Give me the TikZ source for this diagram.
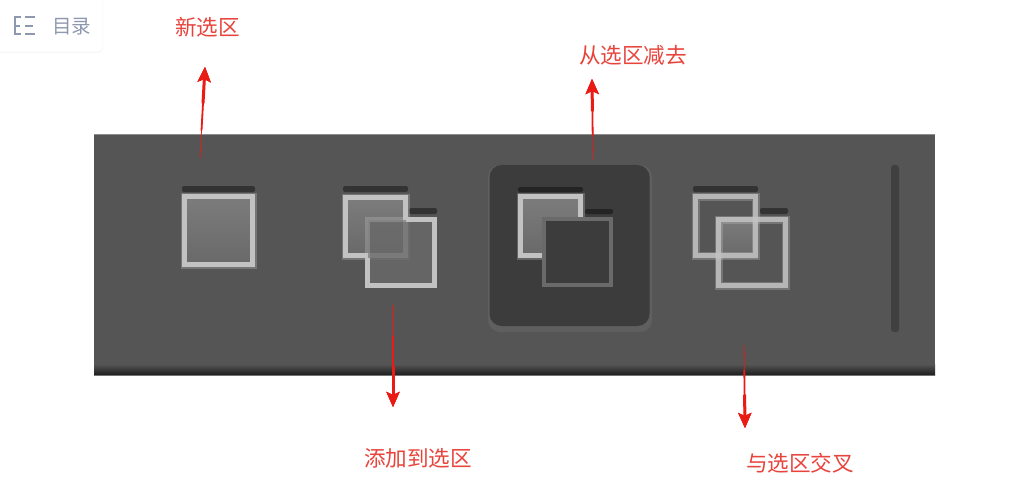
\documentclass[tikz,border=0pt]{standalone}
\usepackage{fontspec}
\usepackage{xcolor}
\usetikzlibrary{arrows.meta,calc,shadows}
\newfontfamily\cjk{Noto Sans CJK SC}
\definecolor{panelgray}{HTML}{555555}
\definecolor{panelblack}{HTML}{1E1E1E}
\definecolor{framegray}{HTML}{C2C2C2}
\definecolor{shadegray}{HTML}{333333}
\definecolor{pressgray}{HTML}{3C3C3C}
\definecolor{pressrim}{HTML}{5F5F5F}
\definecolor{dividergray}{HTML}{404040}
\definecolor{sqtop}{HTML}{7C7C7C}
\definecolor{sqbottom}{HTML}{696969}
\definecolor{subframe}{HTML}{6A6A6A}
\definecolor{tagred}{HTML}{E8443C}
\definecolor{arrowred}{HTML}{EA1A14}
\definecolor{tocgray}{HTML}{8E98AE}
\tikzset{
    tagtext/.style={font=\cjk\fontsize{21.6}{24}\selectfont, text=tagred, inner sep=0pt},
    tagarrow/.style={-{Stealth[length=15pt,width=13pt,inset=3pt]}, arrowred, line width=0.8pt},
    tagthick/.style={tagarrow, line width=1.8pt},
    tagthicker/.style={tagarrow, line width=3pt},
    framesq/.style={draw=framegray, line width=5pt, inner sep=0pt, outer sep=0pt, rectangle, preaction={draw=framegray, draw opacity=0.3, line width=8pt}},
    fillsq/.style={framesq, top color=sqtop, bottom color=sqbottom},
    barshade/.style={fill=shadegray, rounded corners=2pt},
    tocline/.style={draw=tocgray, line width=2pt}
}

% small helper: a thin stem that thickens towards its tip
\newcommand{\tagline}[2]{%
    \draw[tagarrow] (#1) -- (#2);
    \draw[tagthick] ($(#1)!0.3!(#2)$) -- (#2);
    \draw[tagthicker] ($(#1)!0.6!(#2)$) -- (#2);
}

\begin{document}
\begin{tikzpicture}[x=1pt, y=-1pt]
    \useasboundingbox (0,0) rectangle (1031,484);
    \fill[white] (0,0) rectangle (1031,484);

    % contents card
    \node[draw=black!3, fill=white, rounded corners=6pt, drop shadow={opacity=0.06, shadow xshift=0pt, shadow yshift=-1pt}, minimum width=118pt, minimum height=62pt, inner sep=0pt] (toccard) at (44,21) {};
    \draw[tocline] (21,17.5) -- (14.5,17.5) -- (14.5,34) -- (21,34);
    \draw[tocline] (14.5,26) -- (20,26);
    \draw[tocline] (25,17.5) -- (35,17.5);
    \draw[tocline] (25,26) -- (33,26);
    \draw[tocline] (25,34) -- (35,34);
    \node[font=\cjk\fontsize{19.5}{22}\selectfont, text=tocgray, inner sep=0pt] (toctext) at (71.5,27) {目录};

    % tool bar
    \node[fill=panelgray, minimum width=841pt, minimum height=241pt, inner sep=0pt, outer sep=0pt] (panel) at (514.5,255.5) {};
    \fill[black!45!white] (94,134.5) rectangle (935,135.5);
    \fill[top color=panelgray, bottom color=panelblack] (94,364) rectangle (935,375);
    \fill[black!55!white] (94,375) rectangle (935,376);
    \node[fill=pressrim, rounded corners=12pt, minimum width=164pt, minimum height=167pt, inner sep=0pt] (pressedge) at (570,248.5) {};
    \node[fill=pressgray, rounded corners=12pt, minimum width=160pt, minimum height=161pt, inner sep=0pt] (pressed) at (569.5,245.5) {};
    \node[fill=dividergray, rounded corners=3pt, minimum width=8pt, minimum height=167pt, inner sep=0pt] (divider) at (895,248.5) {};

    % new selection
    \fill[barshade] (182,186) rectangle (255,192);
    \node[fillsq, minimum width=68pt, minimum height=68pt] (newsq) at (218.5,230.5) {};

    % add to selection
    \fill[barshade] (343,186) rectangle (408,192);
    \fill[barshade] (409,208) rectangle (437,214);
    \node[fillsq, minimum width=60pt, minimum height=58pt] (addback) at (375.5,226.5) {};
    \node[fill=sqbottom, fill opacity=0.8, minimum width=67pt, minimum height=66pt, inner sep=0pt, outer sep=0pt, draw=framegray, draw opacity=0.3, line width=5pt] (addfront) at (401,252.5) {};
    \draw[draw=framegray, line width=5pt] (405.5,219.5) -- (434.5,219.5) -- (434.5,285.5) -- (367.5,285.5) -- (367.5,258);

    % subtract from selection
    \fill[shadegray!70!black, rounded corners=2pt] (518,187) rectangle (583,192);
    \fill[shadegray!70!black, rounded corners=2pt] (585,209) rectangle (613,214);
    \node[fillsq, minimum width=60pt, minimum height=59pt] (subback) at (550.5,226) {};
    \node[rectangle, draw=subframe, fill=pressgray, line width=4pt, minimum width=67pt, minimum height=66pt, inner sep=0pt] (subfront) at (577.5,252) {};

    % intersect with selection
    \fill[barshade] (693,186) rectangle (758,192);
    \fill[barshade] (760,208) rectangle (788,214);
    \fill[top color=sqtop, bottom color=sqbottom] (716,217) rectangle (758,258);
    \node[framesq, draw opacity=0.85, minimum width=60pt, minimum height=59pt] (crossa) at (725.5,226) {};
    \node[framesq, draw opacity=0.85, minimum width=67pt, minimum height=66pt] (crossb) at (752,252.5) {};

    % tags
    \node[tagtext] (newtag) at (207.5,27) {新选区};
    \node[tagtext] (subtag) at (633,55) {从选区减去};
    \node[tagtext] (addtag) at (418,458) {添加到选区};
    \node[tagtext] (crosstag) at (800,463) {与选区交叉};

    \coordinate (newfrom) at (200,158);
    \coordinate (newto) at (205,67);
    \coordinate (subfrom) at (593,160);
    \coordinate (subto) at (592,79);
    \coordinate (addfrom) at (393,305);
    \coordinate (addto) at (393,407);
    \coordinate (crossfrom) at (744,345);
    \coordinate (crossto) at (745,428);

    \tagline{newfrom}{newto}
    \tagline{subfrom}{subto}
    \tagline{addfrom}{addto}
    \tagline{crossfrom}{crossto}
\end{tikzpicture}
\end{document}
